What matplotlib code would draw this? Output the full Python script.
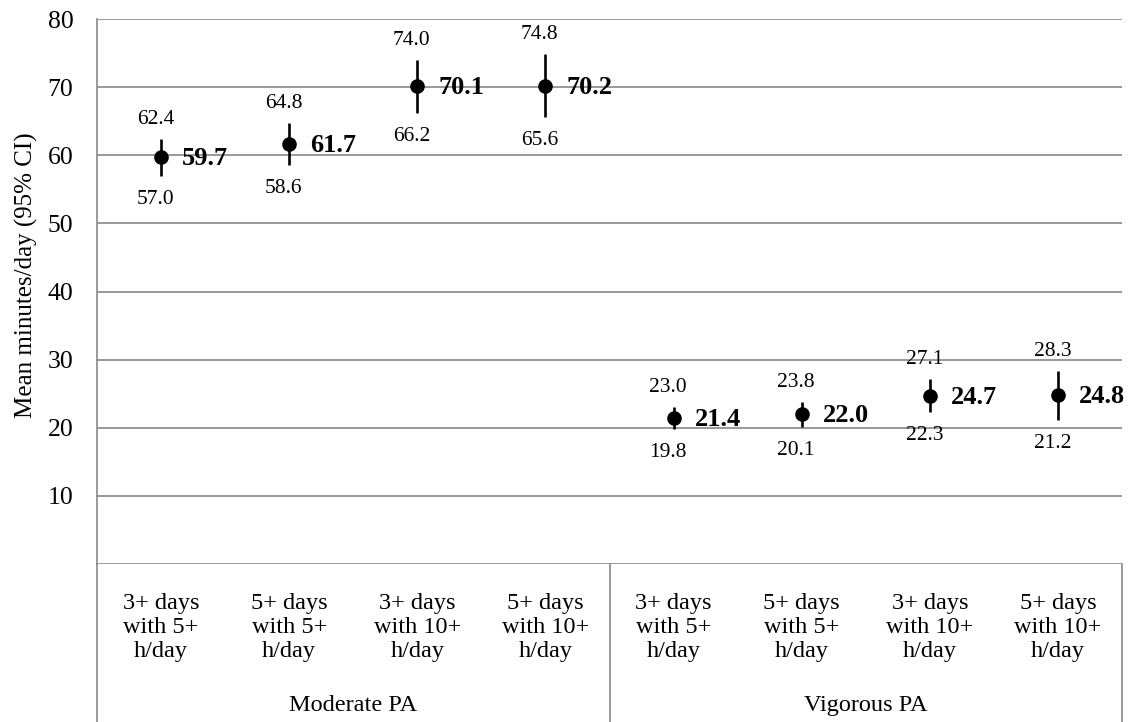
import matplotlib
matplotlib.use("Agg")
import matplotlib.pyplot as plt
import numpy as np

plt.rcParams['font.family'] = ['Liberation Serif', 'DejaVu Serif']

# data
categories = ["3+ days\nwith 5+\nh/day", "5+ days\nwith 5+\nh/day",
              "3+ days\nwith 10+\nh/day", "5+ days\nwith 10+\nh/day"] * 2
groups = ["Moderate PA", "Vigorous PA"]
means = [59.7, 61.7, 70.1, 70.2, 21.4, 22.0, 24.7, 24.8]
upper = [62.4, 64.8, 74.0, 74.8, 23.0, 23.8, 27.1, 28.3]
lower = [57.0, 58.6, 66.2, 65.6, 19.8, 20.1, 22.3, 21.2]
yticks = [10, 20, 30, 40, 50, 60, 70, 80]

grid_col = '#888888'
W, H = 1135, 722
fig = plt.figure(figsize=(W / 100, H / 100), dpi=100)
ax = fig.add_axes([97 / W, (H - 564) / H, (1122 - 97) / W, (564 - 19) / H])

x = np.arange(len(means)) + 0.5
m = np.array(means)
err = [m - np.array(lower), np.array(upper) - m]
ax.errorbar(x, m, yerr=err, fmt='o', color='black', markersize=9.5,
            elinewidth=1.9, capsize=0, zorder=3)

for xi, mv, hi, lo in zip(x, means, upper, lower):
    ax.annotate(f"{mv:.1f}", (xi, mv), xytext=(15, -1), textcoords='offset points',
                ha='left', va='center', fontsize=19, fontweight='bold')
    ax.annotate(f"{hi:.1f}", (xi, hi), xytext=(-4, 14), textcoords='offset points',
                ha='center', va='center', fontsize=15.5)
    ax.annotate(f"{lo:.1f}", (xi, lo), xytext=(-4, -17), textcoords='offset points',
                ha='center', va='center', fontsize=15.5)

ax.set_xlim(0, len(means))
ax.set_ylim(0, 80)
ax.set_yticks(yticks)
ax.tick_params(axis='y', length=0, pad=17, labelsize=18.5)
ax.set_xticks([])
for yv in [0] + yticks:
    ax.axhline(yv, color=grid_col, lw=1.2, zorder=1)
for s in ['top', 'right', 'bottom']:
    ax.spines[s].set_visible(False)
ax.spines['left'].set_color(grid_col)
ax.spines['left'].set_linewidth(1.2)

# y label placed by hand like the original
fig.text(26 / W, 1 - 275 / H, "Mean minutes/day (95% CI)", rotation=90,
         ha='center', va='center', fontsize=18)

# category table below the axis
ybot = -(H - 564) / 6.8
for xv in [0, 4, 8]:
    ax.plot([xv, xv], [0, ybot], color=grid_col, lw=1.2, clip_on=False)
for xi, lab in zip(x, categories):
    ax.text(xi, -9.3, lab, ha='center', va='center', fontsize=17.5,
            linespacing=1.2)
for gi, g in enumerate(groups):
    ax.text(gi * 4 + 2, -20.7, g, ha='center', va='center', fontsize=17.5)

fig.savefig("out.png", dpi=100)
